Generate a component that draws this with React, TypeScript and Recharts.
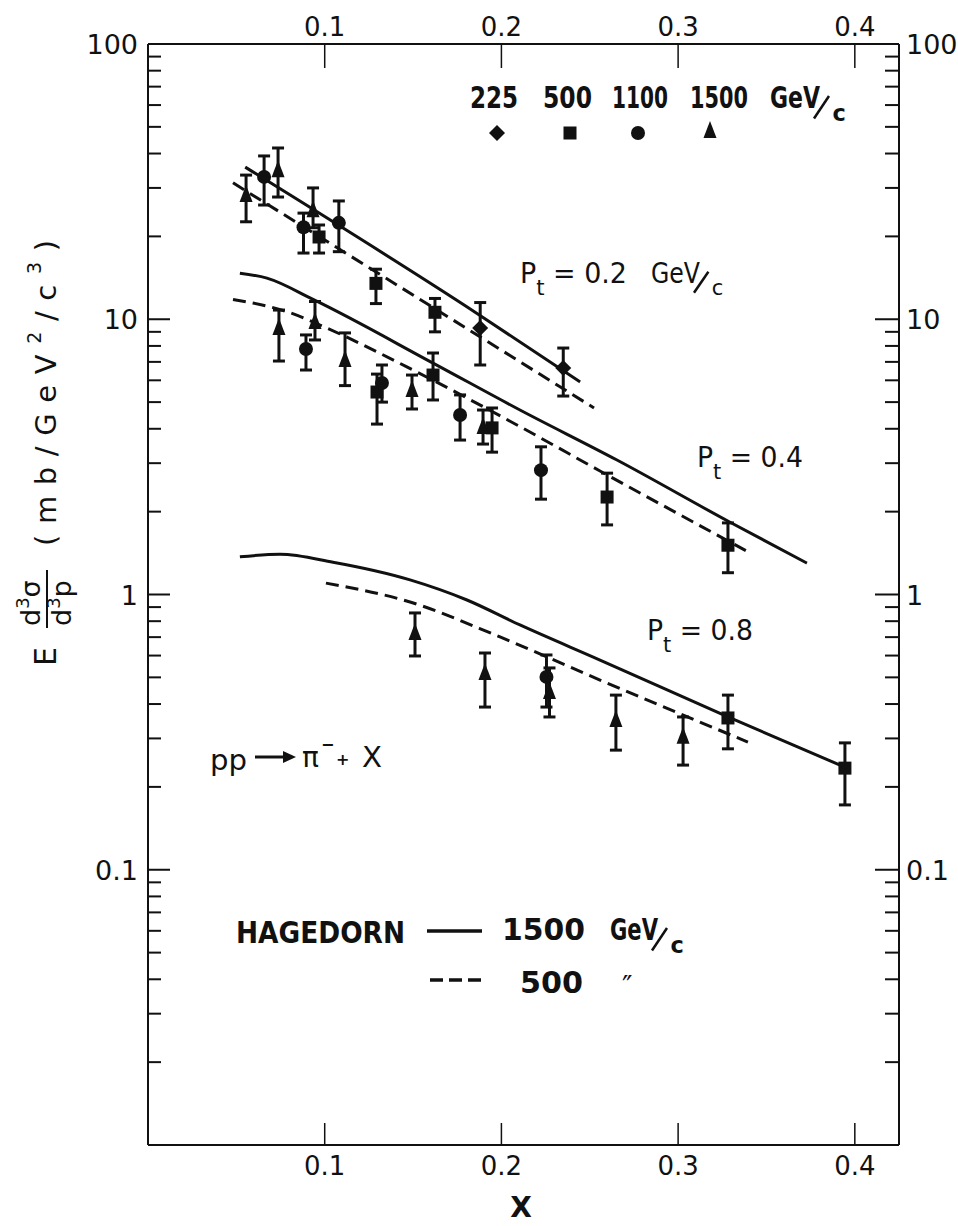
import React from 'react';
import { ComposedChart, Line, Scatter, ErrorBar, XAxis, YAxis } from 'recharts';

// x, value, error bar low, error bar high
type Pt = [number, number, number, number];
type XY = [number, number];

const INK = '#111';
const FONT = '"DejaVu Sans", sans-serif';

const xTicks = [0.1, 0.2, 0.3, 0.4];
const yTicks = [
  0.02, 0.03, 0.04, 0.05, 0.06, 0.07, 0.08, 0.09,
  0.1, 0.2, 0.3, 0.4, 0.5, 0.6, 0.7, 0.8, 0.9,
  1, 2, 3, 4, 5, 6, 7, 8, 9,
  10, 20, 30, 40, 50, 60, 70, 80, 90, 100,
];

// measured points, one list per beam momentum (GeV/c)
const gev225: Pt[] = [
  [0.188, 9.29, 6.82, 11.5],
  [0.235, 6.65, 5.26, 7.86],
];
const gev500: Pt[] = [
  [0.0968, 19.9, 17.4, 22.0],
  [0.129, 13.5, 11.4, 15.2],
  [0.1624, 10.6, 9.0, 11.9],
  [0.1296, 5.44, 4.16, 6.32],
  [0.1613, 6.27, 5.09, 7.54],
  [0.1947, 4.03, 3.29, 4.76],
  [0.2598, 2.26, 1.79, 2.76],
  [0.3282, 1.51, 1.2, 1.82],
  [0.3282, 0.356, 0.275, 0.431],
  [0.3944, 0.234, 0.172, 0.289],
];
const gev1100: Pt[] = [
  [0.0657, 32.9, 26.0, 39.2],
  [0.088, 21.6, 17.4, 24.3],
  [0.108, 22.4, 17.6, 26.9],
  [0.0894, 7.8, 6.54, 8.77],
  [0.1324, 5.87, 5.0, 6.82],
  [0.1766, 4.49, 3.64, 5.31],
  [0.2224, 2.83, 2.22, 3.44],
  [0.2255, 0.502, 0.39, 0.603],
];
const gev1500: Pt[] = [
  [0.0555, 28.3, 22.6, 33.4],
  [0.0736, 34.8, 27.8, 41.9],
  [0.0934, 24.9, 21.5, 30.0],
  [0.0741, 9.29, 7.05, 10.8],
  [0.0945, 9.77, 8.41, 11.6],
  [0.1115, 7.11, 5.74, 8.92],
  [0.1494, 5.53, 4.72, 6.27],
  [0.1896, 4.06, 3.52, 4.68],
  [0.1511, 0.725, 0.598, 0.857],
  [0.1907, 0.519, 0.39, 0.613],
  [0.2272, 0.442, 0.359, 0.541],
  [0.2648, 0.35, 0.272, 0.431],
  [0.3028, 0.304, 0.24, 0.359],
];

// Hagedorn curves: solid = 1500 GeV/c, dashed = 500 GeV/c
const hag1500Pt02: XY[] = [[0.055, 35.7], [0.1862, 10.5], [0.2445, 5.92]];
const hag500Pt02: XY[] = [[0.0481, 31.3], [0.1726, 9.94], [0.2524, 4.76]];
const hag1500Pt04: XY[] = [
  [0.052, 14.7], [0.0673, 14.1], [0.0934, 11.8], [0.1613, 6.93],
  [0.2105, 4.68], [0.2654, 3.08], [0.3294, 1.83], [0.3729, 1.3],
];
const hag500Pt04: XY[] = [
  [0.0481, 11.8], [0.0815, 10.5], [0.0973, 9.53], [0.1522, 6.43],
  [0.2088, 4.13], [0.2558, 2.81], [0.3395, 1.43],
];
const hag1500Pt08: XY[] = [
  [0.052, 1.37], [0.0747, 1.4], [0.1047, 1.31], [0.1483, 1.13], [0.1805, 0.955],
  [0.2105, 0.775], [0.2558, 0.578], [0.3282, 0.359], [0.3956, 0.234],
];
const hag500Pt08: XY[] = [
  [0.1007, 1.1], [0.1483, 0.939], [0.1992, 0.701], [0.2558, 0.489], [0.3395, 0.291],
];

const toPoints = (pts: Pt[]) =>
  pts.map(([x, y, lo, hi]) => ({ x, y, err: [y - lo, hi - y] }));
const toCurve = (pts: XY[]) => pts.map(([x, y]) => ({ x, y }));

const isMajor = (v: number) => Math.abs(Math.log10(v) - Math.round(Math.log10(v))) < 1e-6;
const decadeLabel = (v: number) => (v >= 1 ? String(Math.round(v)) : v.toFixed(1));

// markers
const Diamond = ({ cx, cy }: any) => (
  <path d={`M${cx},${cy - 8} L${cx + 8},${cy} L${cx},${cy + 8} L${cx - 8},${cy} Z`} fill={INK} />
);
const Square = ({ cx, cy }: any) => <rect x={cx - 6.5} y={cy - 6.5} width={13} height={13} fill={INK} />;
const Dot = ({ cx, cy }: any) => <circle cx={cx} cy={cy} r={7} fill={INK} />;
const Tri = ({ cx, cy }: any) => (
  <path d={`M${cx},${cy - 10} L${cx + 6.5},${cy + 7} L${cx - 6.5},${cy + 7} Z`} fill={INK} />
);

// ticks point into the frame; tickSize 0 puts x/y right on the axis line
const LeftTick = ({ x, y, payload }: any) => {
  const v = payload.value as number;
  const major = isMajor(v);
  return (
    <g>
      <line x1={x} x2={x + (major ? 22 : 13)} y1={y} y2={y} stroke={INK} strokeWidth={2} />
      {major && (
        <text x={x - 10} y={y + 10} textAnchor="end" fontSize={27} fill={INK} fontFamily={FONT}>
          {decadeLabel(v)}
        </text>
      )}
    </g>
  );
};
const RightTick = ({ x, y, payload }: any) => {
  const v = payload.value as number;
  const major = isMajor(v);
  return (
    <g>
      <line x1={x} x2={x - (major ? 24 : 14)} y1={y} y2={y} stroke={INK} strokeWidth={2} />
      {major && (
        <text x={x + 7} y={y + 10} textAnchor="start" fontSize={27} fill={INK} fontFamily={FONT}>
          {decadeLabel(v)}
        </text>
      )}
    </g>
  );
};
const BottomTick = ({ x, y, payload }: any) => (
  <g>
    <line x1={x} x2={x} y1={y} y2={y - 22} stroke={INK} strokeWidth={1.5} />
    <text x={x} y={y + 30} textAnchor="middle" fontSize={26} fill={INK} fontFamily={FONT}>
      {payload.value.toFixed(1)}
    </text>
  </g>
);
const TopTick = ({ x, y, payload }: any) => (
  <g>
    <line x1={x} x2={x} y1={y} y2={y + 24} stroke={INK} strokeWidth={1.5} />
    <text x={x} y={y - 8} textAnchor="middle" fontSize={26} fill={INK} fontFamily={FONT}>
      {payload.value.toFixed(1)}
    </text>
  </g>
);

// "GeV/c" written with a slanted stroke and a dropped c
const GeVc = ({ x, y, size, w, weight = 600 }: any) => (
  <g fontFamily={FONT} fill={INK} fontWeight={weight}>
    <text x={x} y={y} fontSize={size} textLength={w} lengthAdjust="spacingAndGlyphs">GeV</text>
    <line
      x1={x + w - 6} y1={y + size * 0.35} x2={x + w + size * 0.3} y2={y - size * 0.4}
      stroke={INK} strokeWidth={2.5}
    />
    <text x={x + w + size * 0.42} y={y + size * 0.42} fontSize={size * 0.75}>c</text>
  </g>
);

const axisLine = { stroke: INK, strokeWidth: 2 };

export default function App() {
  const curves = [
    { data: hag1500Pt02, dash: undefined },
    { data: hag500Pt02, dash: '13 7' },
    { data: hag1500Pt04, dash: undefined },
    { data: hag500Pt04, dash: '13 7' },
    { data: hag1500Pt08, dash: undefined },
    { data: hag500Pt08, dash: '13 7' },
  ];
  const sets = [
    { data: gev225, shape: Diamond },
    { data: gev500, shape: Square },
    { data: gev1100, shape: Dot },
    { data: gev1500, shape: Tri },
  ];

  return (
    <div style={{ position: 'absolute', left: 0, top: 0, width: 958, height: 1226, background: '#fff' }}>
      <ComposedChart width={958} height={1226} margin={{ top: 14, right: 9, bottom: 51, left: 88 }}>
        <XAxis
          xAxisId="b" type="number" dataKey="x" domain={[0, 0.425]} ticks={xTicks} interval={0}
          allowDataOverflow tickLine={false} tickSize={0} tickMargin={0} height={30}
          axisLine={axisLine} tick={(p: any) => <BottomTick {...p} />}
        />
        <XAxis
          xAxisId="t" orientation="top" type="number" dataKey="x" domain={[0, 0.425]} ticks={xTicks}
          interval={0} allowDataOverflow tickLine={false} tickSize={0} tickMargin={0} height={30}
          axisLine={axisLine} tick={(p: any) => <TopTick {...p} />}
        />
        <YAxis
          yAxisId="l" type="number" dataKey="y" scale="log" domain={[0.01, 100]} ticks={yTicks}
          interval={0} allowDataOverflow tickLine={false} tickSize={0} tickMargin={0} width={60}
          axisLine={axisLine} tick={(p: any) => <LeftTick {...p} />}
        />
        <YAxis
          yAxisId="r" orientation="right" type="number" dataKey="y" scale="log" domain={[0.01, 100]}
          ticks={yTicks} interval={0} allowDataOverflow tickLine={false} tickSize={0} tickMargin={0}
          width={50} axisLine={axisLine} tick={(p: any) => <RightTick {...p} />}
        />
        {curves.map((c, i) => (
          <Line
            key={`c${i}`} xAxisId="b" yAxisId="l" data={toCurve(c.data)} dataKey="y" type="monotone"
            stroke={INK} strokeWidth={3} strokeDasharray={c.dash} dot={false} activeDot={false}
            isAnimationActive={false}
          />
        ))}
        {sets.map((s, i) => (
          <Scatter
            key={`s${i}`} xAxisId="b" yAxisId="l" data={toPoints(s.data)} dataKey="y"
            shape={s.shape} isAnimationActive={false}
          >
            <ErrorBar dataKey="err" direction="y" width={6} strokeWidth={3} stroke={INK} />
          </Scatter>
        ))}
      </ComposedChart>

      <svg
        width={958} height={1226}
        style={{ position: 'absolute', left: 0, top: 0, pointerEvents: 'none' }}
        fontFamily={FONT} fill={INK}
      >
        {/* beam momentum key */}
        <g fontSize={30} fontWeight={700}>
          <text x={470} y={108} textLength={48} lengthAdjust="spacingAndGlyphs">225</text>
          <text x={543} y={108} textLength={49} lengthAdjust="spacingAndGlyphs">500</text>
          <text x={612} y={108} textLength={56} lengthAdjust="spacingAndGlyphs">1100</text>
          <text x={690} y={108} textLength={58} lengthAdjust="spacingAndGlyphs">1500</text>
        </g>
        <GeVc x={770} y={108} size={30} w={50} weight={700} />
        <Diamond cx={497} cy={133} />
        <Square cx={570} cy={133} />
        <Dot cx={638} cy={133} />
        <Tri cx={710} cy={131} />

        {/* transverse momentum labels */}
        <text x={520} y={283} fontSize={28} fontWeight={500} textLength={107} lengthAdjust="spacingAndGlyphs">
          P<tspan dy={12} fontSize={22}>t</tspan><tspan dy={-12}> = 0.2</tspan>
        </text>
        <GeVc x={651} y={283} size={28} w={49} weight={500} />
        <text x={697} y={467} fontSize={28} fontWeight={500} textLength={106} lengthAdjust="spacingAndGlyphs">
          P<tspan dy={12} fontSize={22}>t</tspan><tspan dy={-12}> = 0.4</tspan>
        </text>
        <text x={647} y={640} fontSize={28} fontWeight={500} textLength={106} lengthAdjust="spacingAndGlyphs">
          P<tspan dy={12} fontSize={22}>t</tspan><tspan dy={-12}> = 0.8</tspan>
        </text>

        {/* reaction */}
        <text x={210} y={770} fontSize={28} textLength={37} lengthAdjust="spacingAndGlyphs">pp</text>
        <line x1={255} y1={757} x2={285} y2={757} stroke={INK} strokeWidth={3} />
        <path d="M283,751 L296,757 L283,763 Z" fill={INK} />
        <text x={302} y={767} fontSize={28}>π</text>
        <text x={321} y={750} fontSize={16} fontWeight={700}>−</text>
        <text x={336} y={765} fontSize={16} fontWeight={700}>+</text>
        <text x={362} y={767} fontSize={28} textLength={20} lengthAdjust="spacingAndGlyphs">X</text>

        {/* curve key */}
        <text x={236} y={943} fontSize={31} fontWeight={700} textLength={169} lengthAdjust="spacingAndGlyphs">
          HAGEDORN
        </text>
        <line x1={427} y1={931} x2={482} y2={931} stroke={INK} strokeWidth={3.5} />
        <text x={502} y={940} fontSize={30} fontWeight={600} textLength={83} lengthAdjust="spacingAndGlyphs">1500</text>
        <GeVc x={610} y={940} size={30} w={48} weight={600} />
        <line x1={430} y1={980} x2={487} y2={980} stroke={INK} strokeWidth={3.5} strokeDasharray="13 6" />
        <text x={520} y={993} fontSize={30} fontWeight={700} textLength={63} lengthAdjust="spacingAndGlyphs">500</text>
        <text x={622} y={996} fontSize={28}>″</text>

        {/* x axis title */}
        <text x={521} y={1217} fontSize={28} fontWeight={700} textAnchor="middle">X</text>

        {/* y axis title: E d³σ/d³p (mb/GeV²/c³) */}
        <g transform="translate(54,450) rotate(-90)">
          <text x={-216} y={2} fontSize={30}>E</text>
          <text x={-176} y={-14} fontSize={27}>
            d<tspan dy={-11} fontSize={18}>3</tspan><tspan dy={11}>σ</tspan>
          </text>
          <line x1={-178} y1={-7} x2={-120} y2={-7} stroke={INK} strokeWidth={2} />
          <text x={-176} y={17} fontSize={27}>
            d<tspan dy={-11} fontSize={18}>3</tspan><tspan dy={11}>p</tspan>
          </text>
          <text x={-96} y={2} fontSize={29} textLength={306} lengthAdjust="spacing">
            (mb/GeV<tspan dy={-15} fontSize={19}>2</tspan><tspan dy={15}>/c</tspan>
            <tspan dy={-15} fontSize={19}>3</tspan><tspan dy={15}>)</tspan>
          </text>
        </g>
      </svg>
    </div>
  );
}
